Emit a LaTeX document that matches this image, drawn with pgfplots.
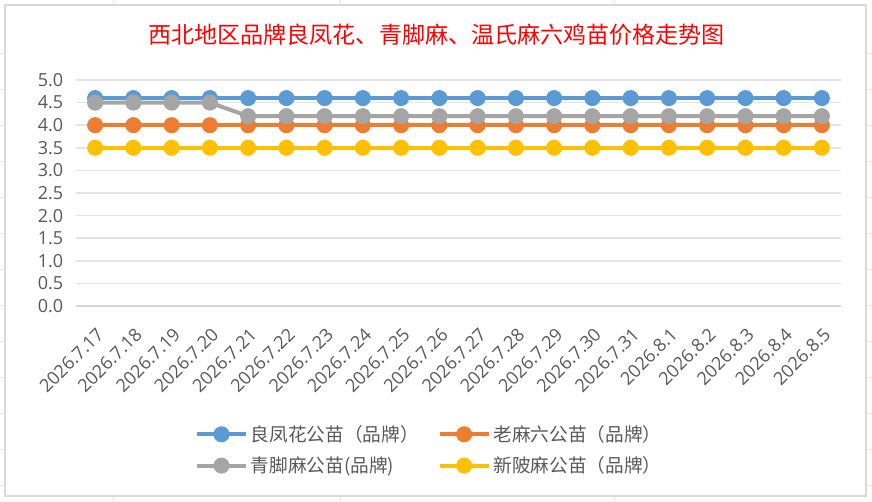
\documentclass[border=0pt]{standalone}
\usepackage{pgfplots}
\pgfplotsset{compat=1.18}
\usepackage{fontspec}
\setmainfont{Open Sans}
\newfontfamily\cjk{Noto Sans CJK SC}
\definecolor{cblue}{HTML}{5B9BD5}
\definecolor{corange}{HTML}{ED7D31}
\definecolor{cgray}{HTML}{A5A5A5}
\definecolor{cyellow}{HTML}{FFC000}
\definecolor{tickgray}{HTML}{595959}
\definecolor{gridgray}{HTML}{E4E4E4}
\definecolor{axgray}{HTML}{D6D6D6}
\definecolor{bordergray}{HTML}{D9D9D9}
\definecolor{cellgray}{HTML}{E6E6E6}
\begin{document}
\begin{tikzpicture}
\path[use as bounding box] (0,0) rectangle (654pt,375.75pt);
% spreadsheet cell lines outside the chart
\foreach \yy in {53,89,125,161,197,233,269,305,341,377,413,449,485} {
  \draw[cellgray,line width=0.6pt] (650pt,{(501-\yy)*0.75pt}) -- (654pt,{(501-\yy)*0.75pt});
  \draw[cellgray,line width=0.6pt] (0pt,{(501-\yy)*0.75pt}) -- (3pt,{(501-\yy)*0.75pt});
}
\foreach \xx in {113,340,614} {
  \draw[cellgray,line width=0.6pt] ({\xx*0.75pt},0pt) -- ({\xx*0.75pt},3pt);
  \draw[cellgray,line width=0.6pt] ({\xx*0.75pt},372.5pt) -- ({\xx*0.75pt},375.75pt);
}
\fill[white] (3.75pt,3.75pt) rectangle (649.5pt,372pt);
\draw[bordergray,line width=1.5pt] (3.75pt,3.75pt) rectangle (649.5pt,372pt);
\node[text=red,font=\cjk\fontsize{17.3}{17.3}\selectfont] at (327.5pt,349.5pt) {西北地区品牌良凤花、青脚麻、温氏麻六鸡苗价格走势图};
\begin{axis}[
  at={(57pt,146.25pt)}, anchor=south west,
  scale only axis, width=573.75pt, height=169.5pt,
  xmin=-0.5, xmax=19.5, ymin=0, ymax=5,
  ytick={0,0.5,...,5},
  xtick={0,...,19},
  xticklabels={2026.7.17,2026.7.18,2026.7.19,2026.7.20,2026.7.21,2026.7.22,2026.7.23,2026.7.24,2026.7.25,2026.7.26,2026.7.27,2026.7.28,2026.7.29,2026.7.30,2026.7.31,2026.8.1,2026.8.2,2026.8.3,2026.8.4,2026.8.5},
  axis line style={draw=none},
  axis x line*=bottom,
  tick style={draw=none},
  ymajorgrids, grid style={gridgray,line width=1.2pt},
  yticklabel style={/pgf/number format/fixed,/pgf/number format/precision=1,/pgf/number format/fixed zerofill,/pgf/number format/assume math mode=true, font=\fontsize{13.5}{13.5}\selectfont, text=tickgray, xshift=-6pt},
  xticklabel style={xshift=4pt, yshift=-19pt, rotate=45, anchor=east, inner sep=0pt, font=\fontsize{13.5}{13.5}\selectfont, text=tickgray},
  legend columns=2,
  legend cell align=left,
  legend style={at={(0.155,-0.515)}, anchor=north west, draw=none, fill=none,
    font=\cjk\fontsize{14}{14}\selectfont, text=tickgray,
    /tikz/every even column/.append style={column sep=12pt},
    row sep=6pt, inner sep=0pt},
  legend image code/.code={\draw[mark repeat=2,mark phase=2,#1] plot coordinates {(0pt,0pt) (18.5pt,0pt) (37pt,0pt)};},
  every axis plot/.append style={line width=3pt, mark=*, mark size=4.5pt},
  clip=false,
]
\draw[axgray,line width=1.2pt] (axis cs:-0.5,0) -- (axis cs:19.5,0);
\addplot[cblue, mark options={fill=cblue,draw=cblue}] coordinates {(0,4.6)(1,4.6)(2,4.6)(3,4.6)(4,4.6)(5,4.6)(6,4.6)(7,4.6)(8,4.6)(9,4.6)(10,4.6)(11,4.6)(12,4.6)(13,4.6)(14,4.6)(15,4.6)(16,4.6)(17,4.6)(18,4.6)(19,4.6)};
\addlegendentry{良凤花公苗（品牌）}
\addplot[corange, mark options={fill=corange,draw=corange}] coordinates {(0,4.0)(1,4.0)(2,4.0)(3,4.0)(4,4.0)(5,4.0)(6,4.0)(7,4.0)(8,4.0)(9,4.0)(10,4.0)(11,4.0)(12,4.0)(13,4.0)(14,4.0)(15,4.0)(16,4.0)(17,4.0)(18,4.0)(19,4.0)};
\addlegendentry{老麻六公苗（品牌）}
\addplot[cgray, mark options={fill=cgray,draw=cgray}] coordinates {(0,4.5)(1,4.5)(2,4.5)(3,4.5)(4,4.2)(5,4.2)(6,4.2)(7,4.2)(8,4.2)(9,4.2)(10,4.2)(11,4.2)(12,4.2)(13,4.2)(14,4.2)(15,4.2)(16,4.2)(17,4.2)(18,4.2)(19,4.2)};
\addlegendentry{青脚麻公苗(品牌)}
\addplot[cyellow, mark options={fill=cyellow,draw=cyellow}] coordinates {(0,3.5)(1,3.5)(2,3.5)(3,3.5)(4,3.5)(5,3.5)(6,3.5)(7,3.5)(8,3.5)(9,3.5)(10,3.5)(11,3.5)(12,3.5)(13,3.5)(14,3.5)(15,3.5)(16,3.5)(17,3.5)(18,3.5)(19,3.5)};
\addlegendentry{新陂麻公苗（品牌）}
\end{axis}
\end{tikzpicture}
\end{document}
